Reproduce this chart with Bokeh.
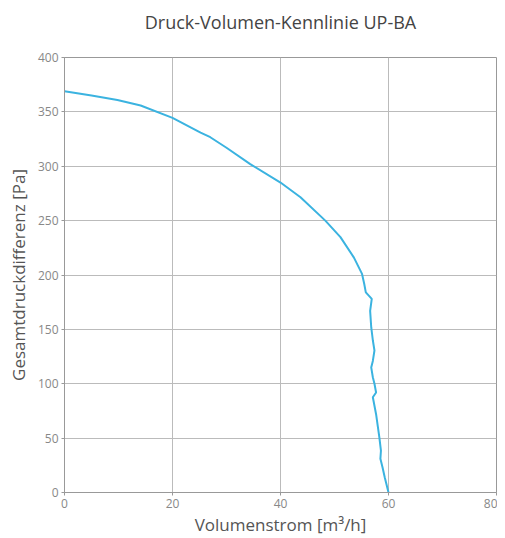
from bokeh.plotting import figure
from bokeh.embed import file_html
from bokeh.resources import INLINE
from bokeh.models import Range1d, FixedTicker, LinearAxis

title = "Druck-Volumen-Kennlinie UP-BA"
x_label = "Volumenstrom [m³/h]"
y_label = "Gesamtdruckdifferenz [Pa]"
x_ticks = [0, 20, 40, 60, 80]
y_ticks = [0, 50, 100, 150, 200, 250, 300, 350, 400]

flow = [0, 5, 9.8, 14.1, 20, 25.2, 27, 30, 34.4, 40, 43.7, 48.3, 51.1, 53.6, 55.1,
        55.5, 55.8, 56.9, 56.6, 56.8, 57.1, 57.4, 57.1, 56.8, 57.1, 57.4, 57.7,
        57.1, 57.7, 58.3, 58.6, 58.5, 58.9, 59.3, 60.0]
pressure = [369, 365, 361, 355.9, 344.5, 331, 326.7, 317, 302, 285, 271.5, 250, 234.8, 216, 201,
            192, 184, 178, 167, 152, 140, 130.6, 121, 115, 106, 100, 92,
            87.6, 72, 51, 38.6, 31, 23, 14, 0]

FONT = "Open Sans"
grey = "#555555"

p = figure(width=497, height=538, output_backend="svg", toolbar_location=None,
           x_range=Range1d(0, 80), y_range=Range1d(0, 400),
           min_border_left=64, min_border_right=1, min_border_top=57, min_border_bottom=46)

p.line(flow, pressure, line_color="#3bb3e0", line_width=2)

xa = p.below[0]
ya = p.left[0]

p.outline_line_color = "#999999"
p.outline_line_width = 1

for ax in (xa, ya):
    ax.axis_line_color = "#999999"
    ax.major_tick_line_color = "#999999"
    ax.major_tick_out = 3
    ax.major_tick_in = 0
    ax.minor_tick_line_color = None
    ax.major_label_text_font = FONT
    ax.major_label_text_font_size = "12px"
    ax.major_label_text_color = "#888888"
    ax.axis_label_text_font = FONT
    ax.axis_label_text_font_size = "17px"
    ax.axis_label_text_font_style = "normal"
    ax.axis_label_text_color = grey

xa.ticker = FixedTicker(ticks=x_ticks)
ya.ticker = FixedTicker(ticks=y_ticks)
xa.axis_label = x_label
ya.axis_label = y_label
xa.major_label_standoff = 3
ya.major_label_standoff = 3
xa.axis_label_standoff = 2
ya.axis_label_standoff = 5

top_axis = LinearAxis(ticker=FixedTicker(ticks=[]), axis_label=title)
top_axis.axis_line_color = None
top_axis.major_tick_line_color = None
top_axis.minor_tick_line_color = None
top_axis.major_tick_out = 0
top_axis.major_tick_in = 0
top_axis.major_label_standoff = 0
top_axis.axis_label_text_font = FONT
top_axis.axis_label_text_font_size = "18px"
top_axis.axis_label_text_font_style = "normal"
top_axis.axis_label_text_color = "#444444"
top_axis.axis_label_standoff = 24
p.add_layout(top_axis, "above")

p.grid.grid_line_color = "#bbbbbb"
p.grid.grid_line_width = 1

open("out.html", "w").write(file_html(p, INLINE))
